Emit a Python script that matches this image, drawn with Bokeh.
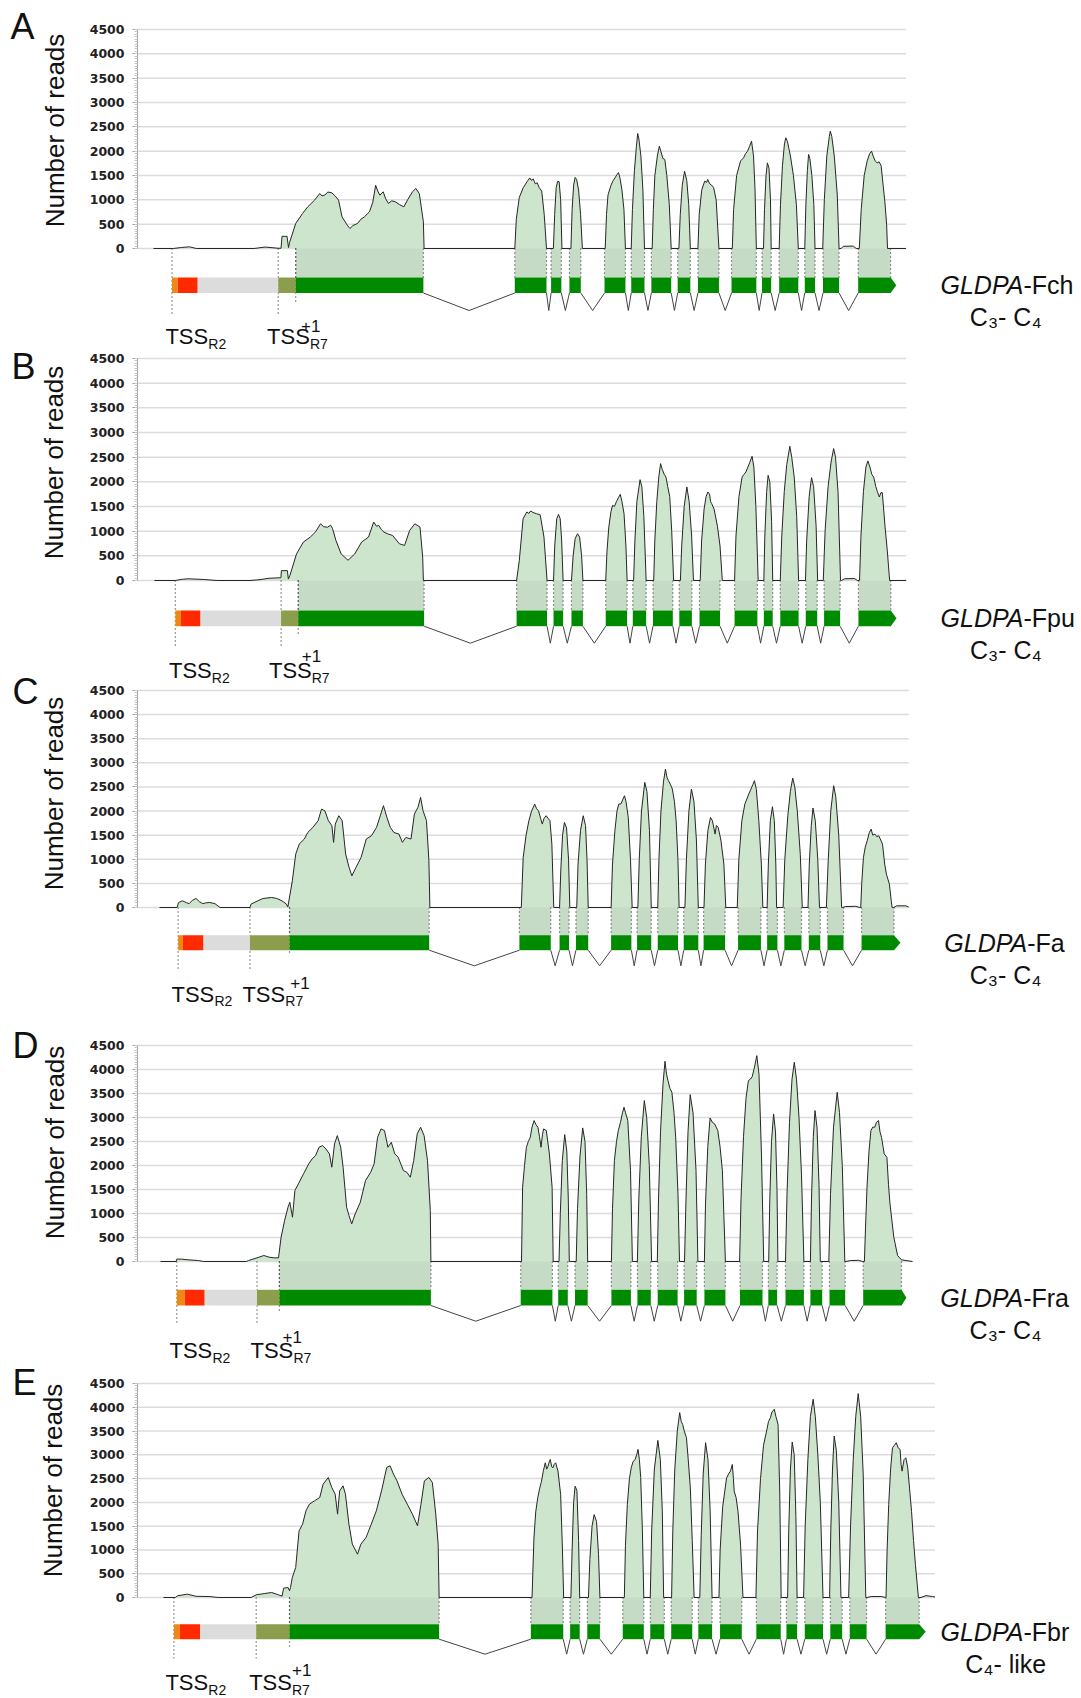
import math
from bokeh.plotting import figure
from bokeh.models import Range1d, FixedTicker, Label
from bokeh.layouts import column, row
from bokeh.core.properties import value
from bokeh.embed import file_html
from bokeh.resources import INLINE

TICKS = [0, 500, 1000, 1500, 2000, 2500, 3000, 3500, 4000, 4500]
MINOR_TICKS = list(range(0, 4501, 50))

PANEL_LETTERS = ["A", "B", "C", "D", "E"]
GENE_SUFFIX = ["-Fch", "-Fpu", "-Fa", "-Fra", "-Fbr"]
PHOTO_TYPE = ["C\u2083- C\u2084", "C\u2083- C\u2084", "C\u2083- C\u2084", "C\u2083- C\u2084", "C\u2084- like"]
Y_TITLE = "Number of reads"

# ---- coverage (position, number of reads) ----
A_COV = [(150,0),(170,0),(178,20),(186,35),(193,0),(251,0),(262,30),(275,5),(278,5),(279,250),(284,250),(285.5,20),(286.5,120),
(292.7,514),(299.6,720),(304.8,856),(311.6,993),(316.8,1130),(319,1080),(322,1100),(325,1160),(328.9,1144),(332.3,1080),(335.7,993),(339.2,650),(344.4,480),(347.1,411),(350,470),(354.7,514),(358,600),(361.6,650),(366.7,754),(370,950),(372.9,1300),(375,1180),(377.1,1096),(380.5,1165),(383,1020),(385.7,925),(389,980),(392.6,960),(397,900),(401.2,856),(405,1000),(409.8,1165),(413.2,1233),(416.7,1130),(420.8,548),(421.5,0),
(512.5,0),(514,600),(517,1050),(521,1250),(525,1380),(527.5,1450),(529,1400),(531,1430),(533,1330),(535,1350),(537,1250),(539.5,1180),(542,700),(544.3,0),
(551.2,0),(552.5,700),(554,1250),(555.5,1380),(557,1370),(558.5,1000),(559.8,0),
(568.8,0),(570,800),(571.5,1300),(573,1460),(574.5,1420),(576.5,1200),(578.5,700),(580.3,0),
(603.2,0),(604.5,700),(606,1100),(609,1300),(611,1390),(613,1450),(615,1520),(616.5,1560),(618,1450),(620,1200),(622,800),(623.5,0),
(629.3,0),(630.5,800),(632.5,1600),(634.5,2100),(635.8,2363),(637,2250),(639,1900),(641,1200),(642.6,0),
(650.3,0),(651.5,800),(653,1500),(655.5,1900),(657.5,2103),(659,2000),(661,1850),(663,1830),(665,1500),(667.5,900),(669.4,0),
(677.1,0),(678.5,700),(680.5,1300),(682.8,1589),(685,1400),(687,900),(688.6,0),
(696.2,0),(697.5,700),(700,1200),(703,1384),(705,1360),(706,1420),(708,1330),(710,1300),(712,1250),(714.5,1000),(717.3,0),
(730.7,0),(732,800),(735,1500),(739,1800),(742,1863),(744,1950),(746,2000),(748,2100),(750,2206),(752,1900),(753.5,1200),(754.8,0),
(762,0),(763,800),(764.5,1500),(765.9,1760),(767.5,1650),(769,1000),(769.7,0),
(777.7,0),(779,900),(781,1700),(783,2150),(784.4,2274),(786,2200),(789,1900),(792,1500),(795,900),(796.9,0),
(803.4,0),(804.5,900),(806,1600),(807.2,1932),(808.5,1850),(810.5,1500),(812.5,900),(813.7,0),
(821.4,0),(823,1000),(825.5,1900),(828,2300),(829,2411),(830.5,2300),(833,1900),(836,1100),(837.8,0),
(840,0),(842,45),(852,50),(855,0),
(858.1,0),(860,800),(863,1500),(866,1800),(868.5,1950),(870.4,2000),(872,1900),(874,1800),(876,1760),(878,1780),(880,1700),(882,1300),(883.7,973),(885.5,500),(886.4,0),(905,0)]

B_COV = [(150,0),(171,0),(178,25),(184,35),(200,20),(213,0),(246,0),(255,15),(265,45),(275,55),(277,55),(277.5,200),(283.5,200),(284.5,30),(286,100),
(292.7,540),(299.6,780),(306.5,880),(311.6,980),(316.8,1150),(320,1090),(323.7,1080),(327,1120),(328.9,1050),(332.3,810),(337.5,540),(344.4,410),(351.2,540),(358.1,780),(365,880),(370.2,1185),(373,1100),(375.3,1117),(378,1030),(380.5,980),(385,940),(389.1,915),(396,745),(401.2,710),(406.3,1015),(411.5,1150),(416.7,1083),(419.4,474),(420.1,0),
(513.7,0),(516.4,400),(520.2,1250),(524,1390),(526,1360),(527.8,1410),(530,1380),(533.6,1354),(537.4,1330),(541.2,880),(544.3,0),
(550.8,0),(552,700),(554,1250),(555.8,1340),(557.5,1250),(559,800),(560.4,0),
(568.8,0),(570.5,500),(572.5,850),(574.9,948),(577,880),(579,500),(580.3,0),
(603.2,0),(604.5,600),(606.3,1083),(608.5,1400),(610.1,1523),(612,1500),(614,1600),(616,1680),(617.8,1747),(619.5,1600),(621.6,1354),(623.5,700),(624.7,0),
(631.2,0),(632.5,800),(634.5,1600),(637.7,2044),(639.5,1900),(641.5,1300),(643.8,0),
(651.4,0),(652.5,800),(654.5,1600),(656.5,2100),(658.3,2370),(660,2250),(662,2150),(663.7,2096),(665.5,1900),(667.5,1700),(669.5,1000),(671.4,0),
(678.2,0),(679.5,700),(682,1500),(684.7,1896),(687,1600),(689.5,900),(691.3,0),
(698.1,0),(699.5,800),(702,1450),(704,1700),(705.8,1794),(707.5,1750),(708.5,1600),(709.6,1560),(712,1450),(715.4,1100),(718,700),(720.3,0),
(732.6,0),(734,900),(737,1700),(740.2,2100),(742,2150),(744,2200),(746,2300),(748,2400),(750.2,2518),(752,2300),(754,1500),(756.3,0),
(762,0),(763,900),(764.8,1800),(766.3,2133),(768,2000),(769.8,1200),(770.9,0),
(778.5,0),(780,900),(782.5,1800),(785,2350),(788.1,2721),(790,2500),(792.5,2100),(795,1300),(796.9,0),
(803.8,0),(805,800),(807.5,1700),(809.9,2085),(812,1900),(814.5,1100),(816,0),
(821.7,0),(823.5,1000),(826.5,1900),(829.5,2400),(832.1,2674),(834,2500),(836.5,1800),(839,0),
(840,0),(843,35),(853,40),(856,0),
(858.1,0),(859.5,900),(862,1800),(864.5,2300),(866.5,2424),(868.5,2300),(870.5,2150),(872.3,2096),(874.5,1900),(876,1800),(878,1692),(879.5,1780),(881,1780),(883.7,1096),(886,600),(888.3,0),(905,0)]

C_COV = [(158,0),(175.6,0),(177,100),(180.8,140),(185,100),(187.7,80),(191,150),(194.6,187),(198,120),(201.4,80),(204,95),(208.3,104),(213.5,80),(218.7,0),
(248.6,0),(249.6,70),(256.5,139),(261.7,187),(270.3,208),(275.5,187),(280.6,139),(285.1,70),(286.5,10),
(291,554),(294.4,1107),(297.9,1315),(303,1420),(306.5,1557),(311.6,1661),(316.8,1800),(320.2,2041),(323.7,2000),(327.1,1800),(330.6,1695),(332.3,1350),(334,1730),(337.5,1903),(340.9,1800),(344.4,1107),(347.8,830),(350.6,657),(354.7,830),(359.8,1038),(365,1420),(370.2,1488),(375.3,1661),(379,1900),(382.2,2111),(385.7,1868),(389.1,1661),(392.6,1557),(397.7,1522),(401.2,1350),(404.6,1453),(409.8,1420),(413.2,1938),(416.7,2076),(419.4,2284),(421.8,2010),(425.3,1800),(427.7,969),(428.7,0),
(520.2,0),(522.1,1038),(525,1500),(527.8,1800),(530.5,2000),(533.6,2145),(535.5,2050),(537.4,2007),(539.5,1850),(541.2,1730),(543,1850),(545.1,1903),(547,1850),(548.9,1800),(550.8,1315),(552.7,0),
(558.5,0),(559.8,800),(561.5,1500),(563.4,1765),(565.5,1650),(567.5,1000),(568.8,0),
(575.7,0),(577,900),(579.5,1600),(582.2,1903),(584.5,1700),(586,1000),(587.2,0),
(610.1,0),(611.5,900),(613.9,1594),(616,2000),(617.8,2145),(620,2150),(622,2250),(623.5,2318),(625,2200),(627.3,1868),(629.5,1000),(631.2,0),
(636.9,0),(638.3,1000),(640.5,2000),(643.8,2595),(646,2400),(648.5,1600),(650.3,0),
(656.8,0),(658,1000),(660,2000),(662.5,2600),(664.5,2872),(666,2700),(667.5,2630),(669.5,2550),(671.4,2457),(673.5,2200),(675.2,1800),(677,1000),(678.2,0),
(684,0),(685.5,1000),(688,2000),(690.5,2457),(693,2200),(695.5,1400),(697.4,0),
(703.1,0),(704.5,900),(707,1600),(709.6,1868),(711.5,1800),(713,1650),(714.2,1522),(715.5,1700),(717.3,1661),(720,1400),(723,900),(724.9,0),
(736.4,0),(738,1000),(741,1800),(744,2145),(746,2250),(747.9,2353),(750,2450),(752,2550),(753.6,2630),(755.5,2450),(758,1800),(760.5,900),(762,0),
(766.3,0),(767.5,900),(769.5,1800),(771.6,2090),(773.5,1800),(775,900),(775.8,0),
(782.3,0),(784,1000),(787,1900),(789.5,2400),(791.9,2685),(794,2500),(796.5,2000),(799.5,1100),(801.5,0),
(807.2,0),(808.5,900),(810.5,1700),(812.2,2062),(814.5,1800),(817,1000),(818.7,0),
(825.6,0),(827.5,1000),(830,2000),(832.9,2526),(835,2300),(838,1500),(840.9,0),
(842,0),(845,20),(855,25),(859,0),
(860,0),(861,500),(862.7,1038),(864.5,1250),(866.5,1384),(868.5,1550),(870.4,1626),(872,1500),(874.2,1522),(876,1470),(878,1488),(880,1400),(881.8,1315),(884,900),(885.7,692),(888.7,484),(890.5,150),(891.4,0),
(893,0),(896,35),(905,35),(908,10)]

D_COV = [(160,0),(175.6,0),(176.3,50),(180.8,50),(187.7,35),(198,20),(203.2,0),(246,0),(248,20),(256.5,76),(263.4,125),(268.6,90),(273.8,76),(278,76),
(280.6,506),(284.1,853),(287.5,1131),(289.3,1235),(292,923),(294.4,1478),(297.9,1617),(303,1825),(308.2,2033),(311.6,2137),(315.1,2207),(318.5,2380),(322,2415),(325.4,2346),(328.9,2242),(331.3,1964),(334,2450),(336.8,2623),(340.2,2380),(342.6,1964),(346.1,1131),(348.5,958),(351.2,784),(354.7,992),(359.8,1235),(365,1686),(370.2,1860),(373.6,2033),(377.1,2589),(380.5,2762),(384,2727),(387.4,2380),(390.8,2484),(394.3,2242),(397.7,2172),(402.9,1895),(406.3,1860),(409.8,1756),(413.2,2103),(416.7,2658),(420.1,2797),(423.6,2623),(427,2103),(429.8,1062),(430.4,0),
(521,0),(522.1,1548),(524,2000),(525.9,2380),(527.8,2500),(529.8,2589),(531.5,2800),(533.6,2936),(535.5,2850),(537.4,2797),(539,2600),(540.5,2380),(542,2650),(543.1,2762),(545.8,2727),(548.9,2242),(551.6,1548),(552.7,0),
(558.5,0),(559.8,1000),(561.8,2100),(564.2,2644),(566.3,2300),(567.8,1300),(568.8,0),
(575.7,0),(577,1100),(579.5,2200),(582.2,2783),(584.5,2500),(586.2,1400),(587.2,0),
(610.9,0),(612,1100),(613.9,2103),(616,2500),(617.8,2727),(620,2900),(622,3100),(623.5,3213),(625,3100),(627.3,2936),(630,1892),(631.9,0),
(636.9,0),(638.3,1300),(640.8,2600),(643.8,3352),(646.2,3000),(648.8,2000),(651.1,0),
(656.8,0),(658,1300),(660,2700),(662.5,3700),(664.5,4171),(666,3900),(667.5,3768),(669.5,3600),(671.4,3526),(673.5,3100),(675.2,2589),(677.5,1400),(679,0),
(684,0),(685.5,1300),(687.5,2700),(689.7,3477),(692.5,3100),(695.5,1900),(697.4,0),
(703.9,0),(705,1200),(707.3,2400),(709.6,2991),(711.8,2900),(714.2,2866),(717.3,2727),(719.5,2400),(721.9,1892),(724.9,0),
(739.1,0),(740.5,1300),(743,2600),(745.5,3400),(747.9,3768),(750,3800),(751.7,3850),(754,4050),(756.3,4289),(758.5,3900),(761,2200),(763.2,0),
(768.2,0),(769.3,1300),(771,2500),(773.1,3074),(775,2700),(776.5,1500),(777.4,0),
(785,0),(786.5,1400),(789,2900),(791.5,3800),(793.8,4150),(796,3800),(798.5,3000),(801,1800),(803.4,0),
(809.9,0),(811,1300),(812.8,2600),(814.5,3144),(816.5,2800),(818.5,1600),(819.8,0),
(828.3,0),(830,1400),(833,2800),(836.7,3526),(839,3100),(841.8,2000),(844.3,0),
(845.5,0),(850,20),(858,25),(861.9,0),
(863.9,0),(865,700),(866.5,1548),(868.5,2300),(870.4,2727),(872.3,2800),(874.2,2797),(876,2900),(878,2936),(879.5,2700),(881,2589),(882.5,2400),(883.7,2242),(886.4,2172),(888,1600),(889.5,1200),(893.3,507),(897.1,125),(901,35),(912,0)]

E_COV = [(160,0),(172,0),(174,35),(184,70),(192.8,25),(206.6,20),(215,0),(248,0),(253,56),(261.7,84),(268.6,105),(275.5,56),(279,28),(280.6,196),(285.1,210),(286.5,140),
(287.5,210),(289.3,420),(292.7,631),(296.1,1402),(299.6,1542),(303,1823),(306.5,1963),(311.6,2033),(316.8,2103),(320.2,2383),(325.4,2524),(328.9,2313),(332.3,2173),(334.7,1753),(336.8,2243),(340.2,2348),(342.6,2173),(346.1,1542),(349.5,1122),(353,981),(354.7,911),(358.1,1122),(363.3,1262),(368.5,1542),(373.6,1823),(378.8,2243),(384,2734),(387.4,2769),(390.8,2594),(394.3,2453),(399.4,2173),(404.6,1963),(409.8,1753),(414.9,1507),(418.4,1963),(421.8,2453),(426.3,2524),(429.8,2418),(433.2,1753),(435.6,1122),(436.6,0),
(529.8,0),(531.7,1251),(533.5,1800),(535.5,2095),(537.5,2300),(539.3,2446),(541,2650),(543.1,2833),(544.5,2700),(545.8,2760),(547,2850),(548.1,2903),(549.5,2750),(550.8,2727),(552,2800),(553.5,2833),(555.8,2657),(558.5,2165),(560.3,1000),(561.5,0),
(568.8,0),(570,1000),(571.5,2000),(573,2341),(574.8,2250),(576.5,1200),(577.6,0),
(586.4,0),(587.8,800),(590,1500),(592.1,1743),(594.5,1600),(596.5,900),(597.9,0),
(622.4,0),(623.5,1100),(625.4,1954),(627.5,2500),(629.3,2727),(631,2850),(633.1,2903),(634.8,3000),(636.1,3114),(637.5,2900),(638.8,2524),(640.5,1400),(641.9,0),
(648.4,0),(649.8,1400),(652.5,2700),(656,3304),(658.5,2900),(660.5,1800),(661.8,0),
(669.8,0),(671,1400),(673,2700),(675.5,3500),(677.9,3887),(679.5,3700),(680.9,3641),(682.5,3500),(684.7,3360),(686.5,2900),(688.6,2306),(690.5,1200),(692.4,0),
(698.1,0),(699.5,1300),(701.5,2600),(703.9,3255),(706.3,2900),(708.5,1800),(710.4,0),
(717.3,0),(718.5,1000),(721,1900),(724.9,2510),(727,2600),(728.8,2657),(730.7,2798),(731.8,2500),(732.6,2235),(734.5,2100),(736.4,1813),(739,1100),(741.4,0),
(754.4,0),(756,1400),(759,2500),(762,3200),(765.1,3501),(767,3700),(768.9,3780),(770.5,3900),(772.8,3958),(774.5,3800),(776.6,3641),(778.3,2200),(779.7,0),
(786.2,0),(787.3,1400),(789,2700),(790.8,3269),(792.8,3000),(794.5,1700),(795.7,0),
(802.2,0),(803.8,1500),(806.5,2900),(809,3800),(811.8,4169),(814,3800),(816.5,3000),(819,2000),(821.7,0),
(828.3,0),(829.5,1400),(831.2,2700),(832.9,3395),(835,3100),(837.5,2000),(839.7,0),
(847.4,0),(849.3,1500),(852,2900),(854.5,3800),(857,4288),(859.5,3800),(862,2600),(864.6,0),
(866,0),(870,20),(880,22),(884.5,0),
(884.9,0),(886,1000),(887.6,1954),(889.5,2700),(891.4,3149),(893.3,3200),(895.2,3255),(897,3150),(899,3114),(900,2800),(901,2657),(903,2900),(904.8,2938),(906.7,2727),(908.5,2300),(910.5,1813),(912.5,1200),(914.4,689),(917.4,0),
(920,0),(925,40),(931.6,20),(934,10)]

# ---- gene models (positions) ----
# 5' region boundaries: TSS_R2 (orange), red, grey, TSS_R7 (olive), +1 (start of coding exon 1)
A_UTR = [168.6, 174.4, 194.4, 275.2, 292.7]
B_UTR = [171.0, 176.7, 196.3, 277.2, 294.4]
C_UTR = [176.7, 181.5, 202.1, 248.6, 288.2]
D_UTR = [176.3, 184.2, 204.2, 256.5, 278.9]
E_UTR = [170.5, 176.3, 197.0, 253.1, 286.5]

A_EXON_START = [292.7, 512.5, 548.9, 567.3, 602.5, 629.3, 649.5, 675.9, 696.2, 729.9, 760.5, 777.7, 803.4, 821.7, 857.0]
A_EXON_END = [420.8, 544.3, 559.2, 578.7, 623.5, 642.6, 669.4, 688.6, 717.3, 754.8, 769.7, 796.9, 813.7, 837.8, 889.5]
B_EXON_START = [294.4, 513.7, 550.8, 568.8, 603.2, 630.4, 650.7, 677.1, 697.4, 732.6, 762.0, 778.5, 804.1, 822.5, 857.0]
B_EXON_END = [420.8, 544.3, 560.4, 580.3, 624.7, 643.8, 670.6, 689.7, 718.0, 755.5, 770.9, 796.9, 815.6, 838.6, 889.5]
C_EXON_START = [288.2, 518.3, 558.5, 574.9, 610.1, 636.1, 656.8, 682.8, 702.7, 737.2, 766.3, 783.5, 808.0, 826.7, 860.8]
C_EXON_END = [428.0, 549.7, 568.0, 587.2, 630.4, 650.3, 677.1, 697.4, 724.2, 760.1, 776.6, 800.7, 819.5, 842.8, 893.3]
D_EXON_START = [278.9, 520.2, 557.7, 574.5, 610.9, 636.9, 657.2, 683.6, 703.9, 739.5, 767.8, 785.0, 809.9, 829.0, 862.7]
D_EXON_END = [430.4, 551.9, 567.3, 587.2, 630.4, 650.3, 677.1, 696.2, 724.9, 762.0, 776.6, 803.4, 821.7, 844.7, 901.0]
E_EXON_START = [286.5, 528.6, 568.0, 585.2, 620.8, 648.4, 669.4, 696.6, 718.4, 754.8, 785.0, 803.4, 829.0, 848.5, 884.5]
E_EXON_END = [436.6, 561.1, 577.6, 597.9, 641.9, 662.5, 690.5, 710.4, 740.2, 779.3, 795.7, 821.7, 840.9, 865.4, 918.2]
ARROW_TIP = [895.2, 895.2, 899.8, 905.9, 924.7]

COVERAGES = [A_COV, B_COV, C_COV, D_COV, E_COV]
UTRS = [A_UTR, B_UTR, C_UTR, D_UTR, E_UTR]
EXON_STARTS = [A_EXON_START, B_EXON_START, C_EXON_START, D_EXON_START, E_EXON_START]
EXON_ENDS = [A_EXON_END, B_EXON_END, C_EXON_END, D_EXON_END, E_EXON_END]

# ---- layout (page pixels) ----
PAGE_W, PAGE_H = 1080, 1698
SIDE_W = 80
LAYOUT = [
    dict(top=0, h=350, y4500=29, y0=248, ax=134, gx=905, bt=29, bb=44.5, v=62, dots=67, gdot=53, tss=88, plus=77, r2x=162, r7x=264, plusx=298, labx=938),
    dict(top=350, h=334, y4500=358, y0=580, ax=133, gx=905, bt=30, bb=45.7, v=62.7, dots=68, gdot=55, tss=90, plus=75, r2x=164.6, r7x=265, plusx=298, labx=938),
    dict(top=684, h=326, y4500=690, y0=907, ax=136, gx=908, bt=27.7, bb=42.7, v=58.3, dots=61.7, gdot=48, tss=86.7, plus=75, r2x=170, r7x=241, plusx=289, labx=942),
    dict(top=1010, h=356, y4500=1045, y0=1261, ax=137, gx=912, bt=28.3, bb=44, v=59.7, dots=63, gdot=50, tss=89, plus=75.7, r2x=169, r7x=250, plusx=282, labx=938),
    dict(top=1366, h=332, y4500=1383, y0=1597, ax=134, gx=934, bt=26.7, bb=41.7, v=56.7, dots=60.7, gdot=49, tss=85, plus=72, r2x=162, r7x=246, plusx=289, labx=938),
]
# side column: letter (left x, centre y) and y-title (centre x, centre y)
LETTER_POS = [(10, 26), (11, 366), (12, 691), (12, 1045), (12, 1382)]
YTITLE_POS = [(54, 130), (53, 462), (53, 793), (54, 1142), (52, 1480)]

UTR_COLORS = ["#ec8a14", "#ff2a00", "#dcdcdc", "#8c9e4d"]
EXON_GREEN = "#008a00"
FONT = "Liberation Sans"


def make_side():
    s = figure(width=SIDE_W, height=PAGE_H, x_range=Range1d(0, SIDE_W), y_range=Range1d(0, PAGE_H),
               output_backend="svg", toolbar_location=None, x_axis_location=None, y_axis_location=None,
               min_border_left=0, min_border_right=0, min_border_top=0, min_border_bottom=0)
    s.outline_line_color = None
    s.xgrid.visible = False
    s.ygrid.visible = False
    s.text(x=[p[0] for p in LETTER_POS], y=[PAGE_H - p[1] for p in LETTER_POS], text=PANEL_LETTERS,
           text_font=value(FONT), text_font_size=value("36px"), text_color="#111111",
           text_align="left", text_baseline="middle")
    s.text(x=[p[0] for p in YTITLE_POS], y=[PAGE_H - p[1] for p in YTITLE_POS], text=[Y_TITLE] * 5,
           angle=math.pi / 2, text_font=value(FONT), text_font_size=value("26px"), text_color="#111111",
           text_align="center", text_baseline="middle")
    return s


def make_panel(i):
    L = LAYOUT[i]
    cov = COVERAGES[i]
    utr = UTRS[i]
    es = EXON_STARTS[i]
    ee = EXON_ENDS[i]
    tip = ARROW_TIP[i]
    rpp = 4500.0 / (L["y0"] - L["y4500"])

    def dy(off):
        return -off * rpp

    y_start = dy(L["top"] + L["h"] - L["y0"])
    y_end = 4500 + (L["y4500"] - L["top"]) * rpp
    p = figure(width=PAGE_W - SIDE_W, height=L["h"], x_range=Range1d(L["ax"], PAGE_W),
               y_range=Range1d(y_start, y_end), output_backend="svg",
               toolbar_location=None, x_axis_location=None,
               min_border_left=L["ax"] - SIDE_W, min_border_right=0,
               min_border_top=0, min_border_bottom=0)
    p.outline_line_color = None
    p.background_fill_color = "white"
    p.border_fill_color = "white"
    p.xgrid.visible = False
    p.ygrid.visible = False

    ax = p.yaxis[0]
    ax.ticker = FixedTicker(ticks=TICKS, minor_ticks=MINOR_TICKS)
    ax.bounds = (0, 4500)
    ax.major_label_text_font = "DejaVu Sans"
    ax.major_label_text_font_style = "bold"
    ax.major_label_text_font_size = "12.5px"
    ax.major_label_text_color = "#222222"
    ax.major_label_standoff = 8
    ax.major_tick_out = 5
    ax.major_tick_in = 0
    ax.minor_tick_out = 3
    ax.minor_tick_in = 0
    ax.axis_line_color = "#a0a0a0"
    ax.major_tick_line_color = "#a0a0a0"
    ax.minor_tick_line_color = "#c8c8c8"

    # horizontal grid lines (only across the plotting area)
    p.segment(x0=L["ax"], y0=TICKS, x1=L["gx"], y1=TICKS, line_color="#dcdcdc", line_width=1.5)

    xs = [c[0] for c in cov]
    ys = [c[1] for c in cov]
    bt, bb = L["bt"], L["bb"]

    # coverage area and exon-projection shading
    p.varea(x=xs, y1=0, y2=ys, fill_color="#cce5cc")
    p.quad(left=es, right=ee, top=0, bottom=dy(bt), fill_color="#c6dbc6", line_color=None)
    p.line(xs, ys, line_color="#262626", line_width=1)

    # dotted exon boundaries
    bx = list(es) + list(ee)
    p.segment(x0=bx, y0=0, x1=bx, y1=dy(bt), line_dash="1 3", line_color="#333333", line_width=1.2)
    # dotted TSS / +1 markers
    p.segment(x0=[utr[0], utr[3], utr[4]], y0=0, x1=[utr[0], utr[3], utr[4]],
              y1=[dy(L["dots"]), dy(L["dots"]), dy(L["gdot"])],
              line_dash="1 3", line_color="#333333", line_width=1.2)

    # introns
    ixs = [[ee[k], (ee[k] + es[k + 1]) / 2.0, es[k + 1]] for k in range(len(es) - 1)]
    iys = [[dy(bb), dy(L["v"]), dy(bb)] for _ in range(len(es) - 1)]
    p.multi_line(ixs, iys, line_color="#444444", line_width=1)

    # 5' region and exons
    p.quad(left=utr[:4], right=utr[1:], top=dy(bt), bottom=dy(bb), fill_color=UTR_COLORS, line_color=None)
    p.quad(left=es[:-1], right=ee[:-1], top=dy(bt), bottom=dy(bb), fill_color=EXON_GREEN, line_color=None)
    p.patch([es[-1], ee[-1], tip, ee[-1], es[-1]],
            [dy(bt), dy(bt), dy((bt + bb) / 2.0), dy(bb), dy(bb)],
            fill_color=EXON_GREEN, line_color=None)

    # TSS labels (y = visual centre of the text)
    for tx, sub in ((L["r2x"], "R2"), (L["r7x"], "R7")):
        p.add_layout(Label(x=tx, y=dy(L["tss"]), text="TSS", text_font=FONT, text_font_size="22px",
                           text_color="#111111", text_baseline="middle", text_align="left"))
        p.add_layout(Label(x=tx + 43, y=dy(L["tss"] + 7), text=sub, text_font=FONT, text_font_size="14px",
                           text_color="#111111", text_baseline="middle", text_align="left"))
    p.add_layout(Label(x=L["plusx"], y=dy(L["plus"]), text="+1", text_font=FONT, text_font_size="17px",
                       text_color="#111111", text_baseline="middle", text_align="left"))

    # gene labels on the right
    bc = (bt + bb) / 2.0
    split = L["labx"] + 84.7
    p.add_layout(Label(x=split, y=dy(bc), text="GLDPA", text_font=FONT, text_font_size="25px",
                       text_font_style="italic", text_color="#111111",
                       text_baseline="middle", text_align="right"))
    p.add_layout(Label(x=split, y=dy(bc), text=GENE_SUFFIX[i], text_font=FONT, text_font_size="25px",
                       text_color="#111111", text_baseline="middle", text_align="left"))
    p.add_layout(Label(x=1005, y=dy(bc + 32), text=PHOTO_TYPE[i], text_font=FONT, text_font_size="25px",
                       text_color="#111111", text_baseline="middle", text_align="center"))
    return p


side = make_side()
panels = column(*[make_panel(i) for i in range(5)], spacing=0)
layout = row(side, panels, spacing=0)
open("out.html", "w").write(file_html(layout, INLINE))
